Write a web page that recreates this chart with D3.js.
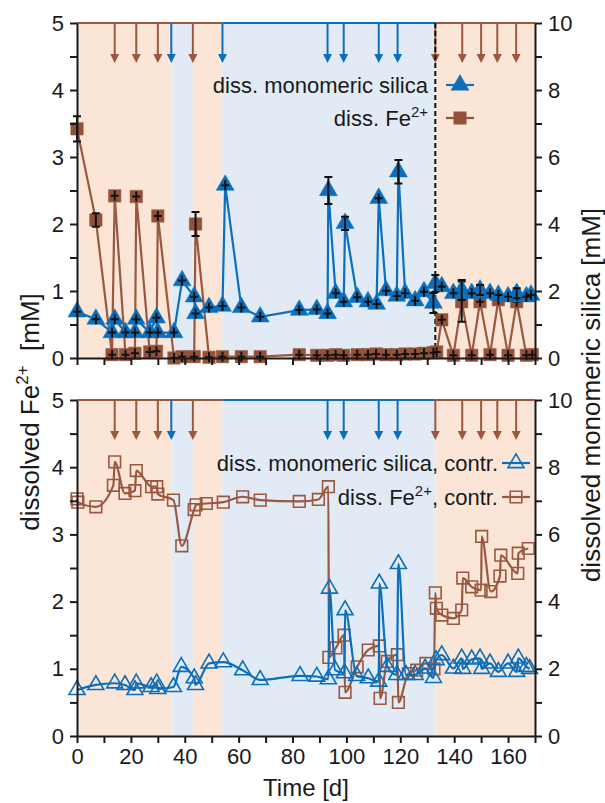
<!DOCTYPE html>
<html>
<head>
<meta charset="utf-8">
<title>Fe and silica</title>
<style>
  body { margin: 0; background: #fff; }
  svg { width: 605px; height: 803px; font-family: "Liberation Sans", Arial, sans-serif; }
  .axis path, .axis line { stroke: #1a1a1a; stroke-width: 2px; }
  .axis text { font-size: 22px; fill: #1a1a1a; font-family: "Liberation Sans", Arial, sans-serif; }
  .title { font-size: 26px; fill: #1a1a1a; }
  .xtitle { font-size: 24px; fill: #1a1a1a; }
  .legend { font-size: 22px; fill: #1a1a1a; }
  .err { stroke: #111; stroke-width: 2px; }
</style>
<script src="https://d3js.org/d3.v7.min.js"></script>
</head>
<body>
<svg></svg>
<script>
// phases: which compound is being added
var phases = [[0, 35, "fe"], [35, 43, "si"], [43, 54, "fe"], [54, 133, "si"], [133, 170, "fe"]];
var topLineSpans = [[0, 54, "fe"], [54, 133, "si"], [133, 170, "fe"]];

// addition days (arrows)
var feAdds = [14, 22, 30, 43, 133, 143, 150, 156, 163];
var siAddsTop = [35, 54, 93, 99, 112, 119];
var siAddsBottom = [35, 93, 99, 112, 119];

// top panel: [day, value, error]  (error 0 = small)
var feTop = [
  [0, 3.42, 0.19], [7, 2.06, 0.1], [13, 0.05, 0], [14, 2.42, 0], [18, 0.05, 0], [21.5, 0.07, 0],
  [22, 2.41, 0.04], [27, 0.09, 0], [29.5, 0.1, 0.04], [30, 2.12, 0.04], [36, 0.0, 0], [39, 0.02, 0],
  [43.5, 0.02, 0], [44, 2.0, 0.18], [49, 0.01, 0], [54, 0.02, 0], [61, 0.02, 0], [68, 0.02, 0],
  [82.5, 0.05, 0], [89, 0.04, 0], [93, 0.04, 0], [96, 0.05, 0], [99, 0.04, 0], [104, 0.05, 0],
  [108, 0.05, 0], [111, 0.06, 0], [114.7, 0.05, 0], [118.7, 0.05, 0], [121.8, 0.06, 0], [125.5, 0.06, 0],
  [128.8, 0.07, 0], [132.3, 0.08, 0], [133.5, 0.09, 0], [135.4, 0.57, 0.04], [139.7, 0.04, 0],
  [142.8, 0.84, 0.3], [146.5, 0.04, 0], [149.6, 0.84, 0.05], [153.3, 0.05, 0], [156.4, 0.87, 0],
  [160, 0.04, 0], [163.2, 0.84, 0], [166.8, 0.04, 0], [169, 0.05, 0]
];
var siTop = [
  [0, 1.38, 0.1], [7, 1.16, 0], [13, 0.76, 0], [14, 1.16, 0], [18, 0.76, 0], [21.5, 0.76, 0],
  [22, 1.16, 0], [27, 0.76, 0], [29.5, 1.2, 0], [30, 0.76, 0], [36, 0.76, 0], [39, 2.31, 0.08],
  [43.5, 1.83, 0.1], [44, 1.33, 0.1], [49, 1.51, 0], [54, 1.55, 0], [55, 5.16, 0], [61, 1.51, 0.05],
  [68, 1.23, 0.05], [82.5, 1.43, 0], [89, 1.45, 0], [93, 1.33, 0.1], [93.3, 5.0, 0.4], [96, 1.93, 0.1],
  [99, 1.68, 0.05], [99.5, 4.02, 0.2], [104, 1.81, 0], [108, 1.68, 0], [111.2, 1.61, 0],
  [112, 4.77, 0.06], [114.7, 2.01, 0.05], [118.7, 1.85, 0], [119.3, 5.56, 0.35], [121.8, 1.93, 0],
  [125.5, 1.71, 0], [128.8, 1.98, 0], [132.3, 1.64, 0.3], [133, 2.23, 0.25], [135.4, 2.13, 0.1],
  [139.7, 1.93, 0], [142.8, 2.03, 0.3], [146.5, 1.93, 0], [149.6, 2.03, 0.15], [153.3, 1.93, 0],
  [156.4, 1.88, 0], [160, 1.83, 0], [163.2, 1.93, 0.15], [166.8, 1.83, 0], [168.5, 1.88, 0]
];

// bottom panel (controls): [day, value]
var feCtrl = [
  [0, 3.53], [0.3, 3.48], [7, 3.41], [13.5, 3.73], [14, 4.08], [17.8, 3.61], [21.5, 3.65], [22, 3.95],
  [27.7, 3.71], [29.6, 3.71], [30, 3.6], [35.8, 3.51], [38.9, 2.83], [43.5, 3.37], [44.2, 3.44],
  [48, 3.46], [54.3, 3.48], [61.5, 3.56], [68, 3.51], [82.5, 3.49], [89.6, 3.52], [93.3, 3.71],
  [93.5, 1.17], [96.1, 1.31], [99.1, 1.50], [99.5, 0.65], [104, 1.03], [108.1, 1.28], [112.2, 1.34],
  [112.5, 0.56], [115.2, 1.11], [118.9, 1.21], [119.3, 0.50], [123, 0.93], [126.1, 0.98], [129.5, 1.08],
  [132.5, 1.0], [133, 2.13], [133.4, 1.90], [135.4, 1.80], [139.7, 1.75], [142.8, 1.875], [143.2, 2.35],
  [146.5, 2.22], [150, 2.17], [150.2, 2.97], [153.6, 2.15], [157, 2.38], [157.3, 2.69], [163.6, 2.42],
  [163.8, 2.72], [167.5, 2.79]
];
var siCtrl = [
  [0, 1.37], [7, 1.52], [14, 1.57], [17.8, 1.52], [21.5, 1.37], [22, 1.57], [27.5, 1.46], [29.6, 1.57],
  [30, 1.40], [35.8, 1.46], [38.7, 2.06], [43.5, 1.72], [44, 1.52], [49, 2.16], [54.3, 2.2], [61.5, 1.96],
  [68, 1.67], [82.8, 1.79], [89, 1.77], [93.3, 1.69], [93.7, 4.39], [95.8, 1.96], [99.3, 1.87],
  [99.5, 3.75], [103.8, 1.79], [108.1, 1.72], [112, 1.62], [112.2, 4.54], [115.2, 2.06], [118.7, 1.82],
  [119.3, 5.12], [122.1, 1.82], [125.5, 1.82], [129.2, 2.01], [132.3, 1.73], [133.3, 2.26], [135.4, 2.41],
  [139.7, 2.01], [142.8, 2.31], [143.2, 2.0], [146.5, 2.28], [149.6, 2.31], [150.2, 2.0], [153.3, 2.16],
  [156.4, 1.91], [160, 2.16], [163.2, 1.91], [163.8, 2.31], [166.8, 2.06], [168, 2.0]
];

var BLUE = "#0a6fbd", BROWN = "#9a5840", BROWN_FILL = "#925139";
var PEACH = "#fae5d6", SKY = "#e2ebf5";

var svg = d3.select("svg");
var x = d3.scaleLinear().domain([0, 170]).range([77, 535]);

var panels = [
  { top: 23, bottom: 358, filled: true, fe: feTop, si: siTop, siAdds: siAddsTop },
  { top: 400, bottom: 736, filled: false, fe: feCtrl, si: siCtrl, siAdds: siAddsBottom }
];

panels.forEach(function(p, pi) {
  var yL = d3.scaleLinear().domain([0, 5]).range([p.bottom, p.top]);
  var yR = d3.scaleLinear().domain([0, 10]).range([p.bottom, p.top]);
  var g = svg.append("g");

  // background phases
  g.selectAll("rect.phase").data(phases).enter().append("rect")
    .attr("x", function(d) { return x(d[0]); })
    .attr("width", function(d) { return x(d[1]) - x(d[0]); })
    .attr("y", p.top).attr("height", p.bottom - p.top)
    .attr("fill", function(d) { return d[2] === "fe" ? PEACH : SKY; });

  // top coloured line
  g.selectAll("line.span").data(topLineSpans).enter().append("line")
    .attr("x1", function(d) { return x(d[0]); }).attr("x2", function(d) { return x(d[1]); })
    .attr("y1", p.top).attr("y2", p.top)
    .attr("stroke", function(d) { return d[2] === "fe" ? BROWN : BLUE; })
    .attr("stroke-width", 2);

  // addition arrows
  function arrows(days, col) {
    var a = g.selectAll(null).data(days).enter().append("g");
    a.append("line")
      .attr("x1", function(d) { return x(d); }).attr("x2", function(d) { return x(d); })
      .attr("y1", p.top).attr("y2", p.top + 33)
      .attr("stroke", col).attr("stroke-width", 2);
    a.append("path")
      .attr("d", function(d) {
        var cx = x(d), t = p.top + 40;
        return "M" + (cx - 4.5) + "," + (t - 9) + "L" + (cx + 4.5) + "," + (t - 9) + "L" + cx + "," + t + "Z";
      })
      .attr("fill", col);
  }
  arrows(feAdds, BROWN);
  arrows(p.siAdds, BLUE);

  if (pi === 0) {
    g.append("line")
      .attr("x1", x(133)).attr("x2", x(133))
      .attr("y1", p.top).attr("y2", p.bottom)
      .attr("stroke", "#111").attr("stroke-width", 2)
      .attr("stroke-dasharray", "5,3");
  }

  // series lines
  var curve = p.filled ? d3.curveLinear : d3.curveMonotoneX;
  var lineSi = d3.line().curve(curve)
    .x(function(d) { return x(d[0]); }).y(function(d) { return yR(d[1]); });
  var lineFe = d3.line().curve(curve)
    .x(function(d) { return x(d[0]); }).y(function(d) { return yL(d[1]); });

  var triangle = d3.symbol().type(d3.symbolTriangle).size(p.filled ? 140 : 110);
  var square = d3.symbol().type(d3.symbolSquare).size(p.filled ? 155 : 135);

  function drawSeries(data, yS, line, col, fillCol, sym) {
    g.append("path").datum(data)
      .attr("d", line).attr("fill", "none")
      .attr("stroke", col).attr("stroke-width", 2.2);
    g.selectAll(null).data(data).enter().append("path")
      .attr("d", sym)
      .attr("transform", function(d) { return "translate(" + x(d[0]) + "," + yS(d[1]) + ")"; })
      .attr("fill", p.filled ? fillCol : "none")
      .attr("stroke", col)
      .attr("stroke-width", p.filled ? 0.5 : 1.6);
    if (!p.filled) return;
    // error bars / small "+" marks
    var e = g.selectAll(null).data(data).enter().append("g")
      .attr("transform", function(d) { return "translate(" + x(d[0]) + "," + yS(d[1]) + ")"; });
    e.append("path").attr("class", "err").attr("fill", "none")
      .attr("d", function(d) {
        var h = Math.abs(yS(d[2]) - yS(0));
        if (h < 4) return "M0,-5V5M-4,0H4";
        return "M0," + (-h) + "V" + h + "M-4," + (-h) + "H4M-4," + h + "H4";
      });
  }
  drawSeries(p.fe, yL, lineFe, BROWN, BROWN_FILL, square);
  drawSeries(p.si, yR, lineSi, BLUE, BLUE, triangle);

  // axes
  var axL = d3.axisLeft(yL).tickValues(d3.range(0, 5.01, 0.5))
    .tickFormat(function(d) { return Number.isInteger(d) ? d : ""; })
    .tickSize(7).tickSizeOuter(0).tickPadding(6);
  g.append("g").attr("class", "axis").attr("transform", "translate(" + x(0) + ",0)").call(axL);

  var axR = d3.axisRight(yR).tickValues(d3.range(0, 10.01, 1))
    .tickFormat(function(d) { return d % 2 === 0 ? d : ""; })
    .tickSize(7).tickSizeOuter(0).tickPadding(6);
  g.append("g").attr("class", "axis").attr("transform", "translate(" + x(170) + ",0)").call(axR);

  var axB = d3.axisBottom(x).tickValues(d3.range(0, 171, 10))
    .tickFormat(function(d) { return (pi === 1 && d % 20 === 0 && d <= 160) ? d : ""; })
    .tickSize(7).tickSizeOuter(0).tickPadding(5);
  g.append("g").attr("class", "axis").attr("transform", "translate(0," + p.bottom + ")").call(axB);
});

// legends
function legendRow(tx, ty, parts, sx, col, sym, filled) {
  var t = svg.append("text").attr("class", "legend")
    .attr("x", tx).attr("y", ty).attr("text-anchor", "end");
  parts.forEach(function(pt) {
    var s = t.append("tspan").text(pt[0]);
    if (pt[1] === "sup") s.attr("dy", -9).attr("font-size", 15);
    if (pt[1] === "down") s.attr("dy", 9);
  });
  var cy = ty - 8;
  svg.append("line").attr("x1", sx - 14).attr("x2", sx + 14)
    .attr("y1", cy).attr("y2", cy).attr("stroke", col).attr("stroke-width", 2.2);
  svg.append("path").attr("d", sym)
    .attr("transform", "translate(" + sx + "," + cy + ")")
    .attr("fill", filled ? col : "none").attr("stroke", col)
    .attr("stroke-width", filled ? 0.5 : 1.6);
}
var triF = d3.symbol().type(d3.symbolTriangle).size(140);
var sqF = d3.symbol().type(d3.symbolSquare).size(155);
var triO = d3.symbol().type(d3.symbolTriangle).size(110);
var sqO = d3.symbol().type(d3.symbolSquare).size(135);

legendRow(428, 93, [["diss. monomeric silica"]], 460, BLUE, triF, true);
legendRow(428, 126, [["diss. Fe"], ["2+", "sup"], ["", "down"]], 460, BROWN_FILL, sqF, true);
legendRow(498, 471, [["diss. monomeric silica, contr."]], 516, BLUE, triO, false);
legendRow(498, 505, [["diss. Fe"], ["2+", "sup"], [", contr.", "down"]], 516, BROWN, sqO, false);

// axis titles
svg.append("text").attr("class", "title")
  .attr("transform", "translate(39,412) rotate(-90)")
  .attr("text-anchor", "middle")
  .call(function(t) {
    t.append("tspan").text("dissolved Fe");
    t.append("tspan").text("2+").attr("dy", -11).attr("font-size", 17);
    t.append("tspan").text("\u00a0 [mM]").attr("dy", 11);
  });
svg.append("text").attr("class", "title")
  .attr("transform", "translate(600,395) rotate(-90)")
  .attr("text-anchor", "middle")
  .text("dissolved monomeric silica [mM]");
svg.append("text").attr("class", "xtitle")
  .attr("x", x(85)).attr("y", 796)
  .attr("text-anchor", "middle")
  .text("Time [d]");
</script>
</body>
</html>
